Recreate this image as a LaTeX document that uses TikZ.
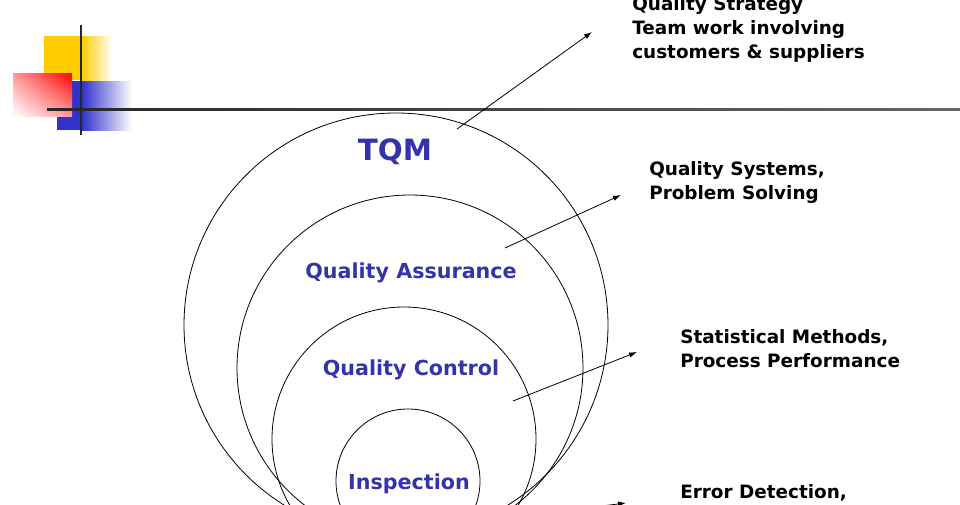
\documentclass[tikz,border=0pt]{standalone}
\usepackage{fontspec}
\setmainfont{DejaVu Sans}
\usetikzlibrary{arrows.meta,shadings}
\definecolor{lblue}{RGB}{51,51,170}
\definecolor{lyel}{RGB}{255,204,0}
\definecolor{lblu2}{RGB}{51,51,204}
\tikzset{
  ring/.style={draw=black,line width=0.6pt},
  lab/.style={text=lblue,font=\bfseries\fontsize{15.5}{18}\selectfont},
  note/.style={font=\bfseries\fontsize{13.8}{18.2}\selectfont,align=left,anchor=north west,inner sep=0pt},
  pointer/.style={line width=0.6pt,-{Latex[length=6pt,width=4pt]}}
}
\begin{document}
\begin{tikzpicture}[x=0.75pt,y=-0.75pt]
\useasboundingbox (0,0) rectangle (960,504);
\begin{scope}
\clip (0,0) rectangle (960,504);
% logo
\shade[left color=lyel,right color=white] (82,36) rectangle (112,80);
\fill[lyel] (44,36) rectangle (82,80);
\shade[left color=lblu2,right color=white] (82,81) rectangle (132,130);
\fill[lblu2] (57,81) rectangle (82,130);
\shade[lower left=white,upper right=red,lower right=red!40,upper left=red!40] (13,73) rectangle (72,116);
\draw[line width=2pt,black!85] (81,25) -- (81,135);
\shade[left color=black!85,right color=black!60] (47,108) rectangle (960,110.5);
% circles
\node[ring,circle,minimum size=424*0.75pt,inner sep=0pt] (tqm) at (396,325) {};
\node[ring,circle,minimum size=346*0.75pt,inner sep=0pt] (qa) at (410,368) {};
\node[ring,circle,minimum size=264*0.75pt,inner sep=0pt] (qc) at (404,439) {};
\node[ring,circle,minimum size=144*0.75pt,inner sep=0pt] (ins) at (408,481) {};
% labels
\node[text=lblue,font=\bfseries\fontsize{22}{26}\selectfont] (tqml) at (395,152) {TQM};
\node[lab] (qal) at (411,273) {Quality Assurance};
\node[lab] (qcl) at (411,370) {Quality Control};
\node[lab] (insl) at (409,484) {Inspection};
% notes
\node[note] (n1) at (632,-4) {Quality Strategy\\Team work involving\\customers \& suppliers};
\node[note] (n2) at (649,161) {Quality Systems,\\Problem Solving};
\node[note] (n3) at (680,329) {Statistical Methods,\\Process Performance};
\node[note] (n4) at (680,484) {Error Detection,};
% pointers
\coordinate (a1) at (457,129); \coordinate (b1) at (592,32);
\coordinate (a2) at (505,248); \coordinate (b2) at (621,195);
\coordinate (a3) at (513,401); \coordinate (b3) at (637,352);
\coordinate (a4) at (520,516); \coordinate (b4) at (626,503);
\draw[pointer] (a1) -- (b1);
\draw[pointer] (a2) -- (b2);
\draw[pointer] (a3) -- (b3);
\draw[pointer] (a4) -- (b4);
\end{scope}
\end{tikzpicture}
\end{document}
